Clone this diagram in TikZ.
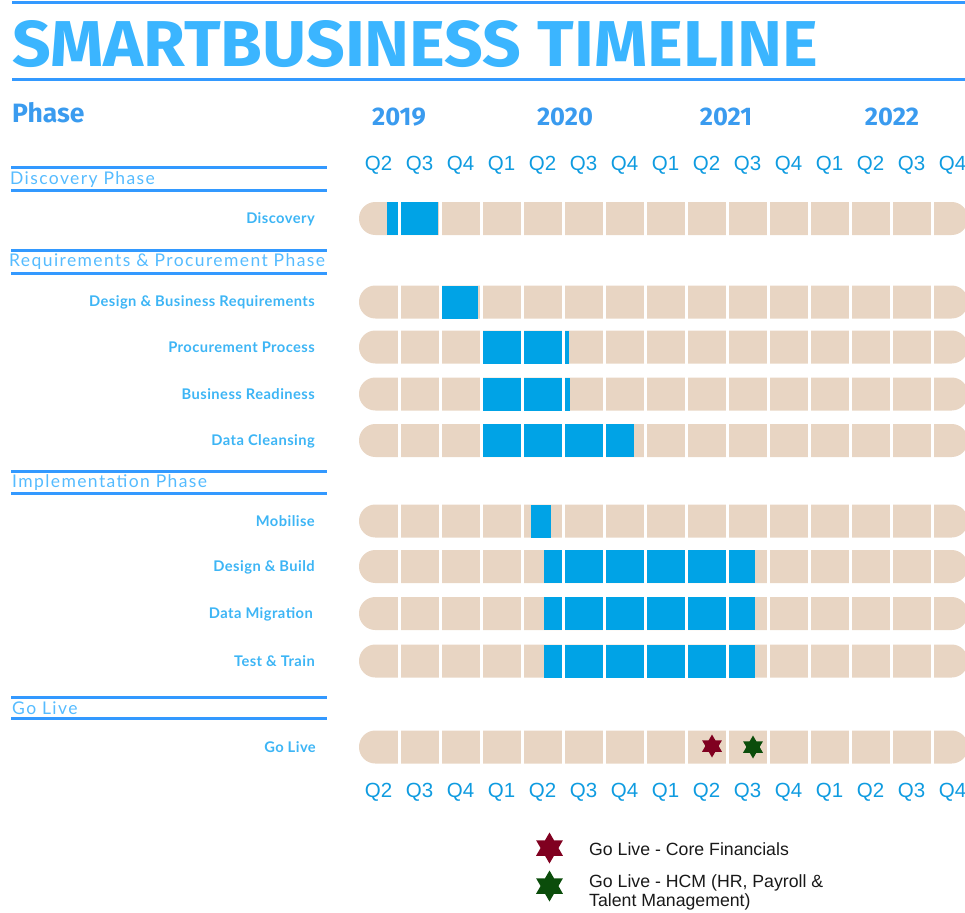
\documentclass[tikz,border=0pt]{standalone}
\usepackage{fontspec}
\setmainfont{Liberation Sans}
\newfontfamily\titlefont{Fira Sans}
\newfontfamily\headfont[LetterSpace=8]{Lato}
\newfontfamily\rowfont[LetterSpace=3]{Lato}
\usetikzlibrary{shapes.geometric}
\definecolor{titleblue}{HTML}{3BB5FF}
\definecolor{ruleblue}{HTML}{3399FF}
\definecolor{headblue}{HTML}{55BBFF}
\definecolor{rowblue}{HTML}{3DB5F5}
\definecolor{yearblue}{HTML}{3A9BEF}
\definecolor{qblue}{HTML}{0E9BE0}
\definecolor{barbeige}{HTML}{E8D5C3}
\definecolor{barblue}{HTML}{00A3E6}
\definecolor{starred}{HTML}{800020}
\definecolor{stargreen}{HTML}{0B4D0B}
\tikzset{
  rule/.style={draw=ruleblue, line width=3pt},
  headtext/.style={anchor=west, inner sep=0, text=headblue, font=\headfont\fontsize{17.5}{19}\selectfont},
  rowlabel/.style={anchor=east, inner sep=0, text=rowblue, font=\rowfont\bfseries\fontsize{14.7}{16}\selectfont},
  qlabel/.style={inner sep=0, text=qblue, font=\fontsize{20.5}{22}\selectfont},
  yearlabel/.style={inner sep=0, text=yearblue, font=\titlefont\bfseries\fontsize{25.5}{27}\selectfont},
  starmark/.style={star, star points=6, star point ratio=1.732, inner sep=0, draw=none},
  legendtext/.style={anchor=west, inner sep=0, text=black!90, align=left, font=\fontsize{17.7}{19.5}\selectfont},
}
\begin{document}
\begin{tikzpicture}[x=1pt, y=-1pt]
\useasboundingbox (0,0) rectangle (965,912);
% title
\draw[rule] (12,3) -- (965,3);
\node[anchor=south west, inner sep=0, text=titleblue] (title) at (12,68)
  {\resizebox{806pt}{46pt}{\titlefont\bfseries SMARTBUSINESS TIMELINE}};
\draw[rule] (12,80) -- (965,80);
% column heads
\node[anchor=west, inner sep=0, text=yearblue, font=\titlefont\bfseries\fontsize{26.5}{28}\selectfont] (phase) at (12,113) {Phase};
\node[yearlabel] (y2019) at (399,117) {2019};
\node[yearlabel] (y2020) at (565,117) {2020};
\node[yearlabel] (y2021) at (726,117) {2021};
\node[yearlabel] (y2022) at (892,117) {2022};
\foreach \q [count=\i from 0] in {Q2,Q3,Q4,Q1,Q2,Q3,Q4,Q1,Q2,Q3,Q4,Q1,Q2,Q3,Q4} {
  \node[qlabel] (qt\i) at ({378.5+41*\i},165) {\q};
  \node[qlabel] (qb\i) at ({378.5+41*\i},792) {\q};
}
% phase headers
\draw[rule] (11,167.5) -- (327,167.5);
\draw[rule] (11,190.5) -- (327,190.5);
\node[headtext] (hdisc) at (10,179.5) {Discovery Phase};
\draw[rule] (11,250.5) -- (327,250.5);
\draw[rule] (11,273.5) -- (327,273.5);
\node[headtext] (hreq) at (9,261.5) {Requirements \& Procurement Phase};
\draw[rule] (11,471.5) -- (327,471.5);
\draw[rule] (11,493.5) -- (327,493.5);
\node[headtext] (himp) at (12,483) {Implementation Phase};
\draw[rule] (11,697.5) -- (327,697.5);
\draw[rule] (11,718.5) -- (327,718.5);
\node[headtext] (hgo) at (12,708.5) {Go Live};
% bars
\foreach \y in {218.5,302,347,394,440.5,521,566.5,613.5,661,747} {
  \fill[barbeige, rounded corners=16.3pt] (359,{\y-16.5}) rectangle (968,{\y+16.5});
}
\fill[barblue] (387,202) rectangle (438,235);
\fill[barblue] (442,285.5) rectangle (478,318.5);
\fill[barblue] (481,330.5) rectangle (569,363.5);
\fill[barblue] (481,377.5) rectangle (570,410.5);
\fill[barblue] (481,424) rectangle (634,457);
\fill[barblue] (531,504.5) rectangle (551,537.5);
\fill[barblue] (544,550) rectangle (755,583);
\fill[barblue] (544,597) rectangle (755,630);
\fill[barblue] (544,644.5) rectangle (755,677.5);
\foreach \y in {218.5,302,347,394,440.5,521,566.5,613.5,661,747} {
  \foreach \k in {0,...,13} {
    \fill[white] ({398+41*\k},{\y-17}) rectangle ({401+41*\k},{\y+17});
  }
}
% row labels
\node[rowlabel] (rdisc) at (315,219) {Discovery};
\node[rowlabel] (rdbr) at (315,302.5) {Design \& Business Requirements};
\node[rowlabel] (rproc) at (315,347.5) {Procurement Process};
\node[rowlabel] (rbr) at (315,394.5) {Business Readiness};
\node[rowlabel] (rdc) at (315,441) {Data Cleansing};
\node[rowlabel] (rmob) at (315,521.5) {Mobilise};
\node[rowlabel] (rdb) at (315,567) {Design \& Build};
\node[rowlabel] (rdm) at (313,614) {Data Migration};
\node[rowlabel] (rtt) at (315,661.5) {Test \& Train};
\node[rowlabel] (rgo) at (316,747.5) {Go Live};
% go-live stars
\node[starmark, fill=starred, minimum size=23pt] (sred) at (712,746) {};
\node[starmark, fill=stargreen, minimum size=23pt] (sgreen) at (753,747) {};
% legend
\node[starmark, fill=starred, minimum size=31pt] (lred) at (549.5,848) {};
\node[legendtext] (tred) at (589,849) {Go Live - Core Financials};
\node[starmark, fill=stargreen, minimum size=31pt] (lgreen) at (549.5,886) {};
\node[legendtext] (tgreen) at (589,892.5) {Go Live - HCM (HR, Payroll \&\\Talent Management)};
\end{tikzpicture}
\end{document}
